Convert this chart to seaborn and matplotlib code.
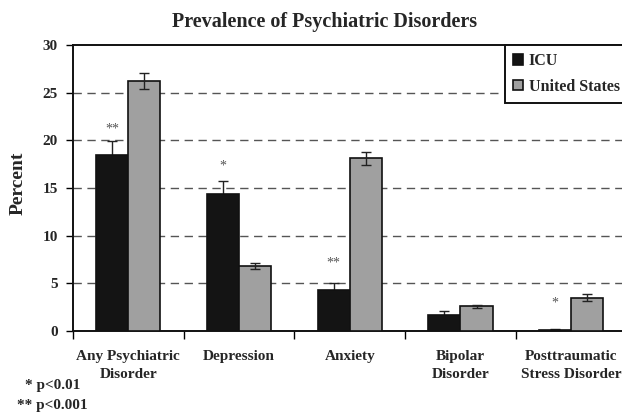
import matplotlib
matplotlib.use('Agg')
import matplotlib.pyplot as plt
import seaborn as sns
import numpy as np
import pandas as pd

categories = ["Any Psychiatric\nDisorder", "Depression", "Anxiety", "Bipolar\nDisorder", "Posttraumatic\nStress Disorder"]
groups = ["ICU", "United States"]
icu_values = [18.5, 14.4, 4.3, 1.7, 0.15]
icu_errors = [1.4, 1.3, 0.7, 0.4, 0.05]
us_values = [26.2, 6.8, 18.1, 2.6, 3.5]
us_errors = [0.85, 0.3, 0.7, 0.15, 0.35]
sig_marks = ["**", "*", "**", "", "*"]
sig_heights = [21.2, 17.3, 7.1, 0, 2.9]

df = pd.DataFrame({
    "category": categories * 2,
    "group": [groups[0]] * len(categories) + [groups[1]] * len(categories),
    "value": icu_values + us_values,
})

sns.set_theme(style="white")
plt.rcParams['font.family'] = ['Liberation Serif', 'DejaVu Serif']
plt.rcParams['font.weight'] = 'bold'

fig = plt.figure(figsize=(6.22, 4.13), dpi=100)
# axes runs slightly past the right edge, as in the cropped original
ax = fig.add_axes([73 / 622, 82 / 413, 553.5 / 622, 286 / 413])

palette = {"ICU": "#141414", "United States": "#a0a0a0"}
sns.barplot(data=df, x="category", y="value", hue="group", palette=palette,
            width=0.58, edgecolor="#111111", linewidth=1.2, errorbar=None,
            saturation=1, ax=ax, zorder=3, legend=True)

# error bars from bar patches; ICU ones sit behind the black bars
errs = icu_errors + us_errors
n = len(categories)
for k, (patch, err) in enumerate(zip(ax.patches[:len(errs)], errs)):
    cx = patch.get_x() + patch.get_width() / 2
    ax.errorbar(cx, patch.get_height(), yerr=err, fmt='none', ecolor='#222222',
                elinewidth=1, capsize=3.5, capthick=1, zorder=2 if k < n else 4)

for i, (mark, h) in enumerate(zip(sig_marks, sig_heights)):
    if mark:
        ax.text(i - 0.145, h, mark, ha='center', va='center', fontsize=10,
                fontweight='normal', color='#555555')

ax.set_ylim(0, 30)
ax.set_xlim(-0.5, 4.5)
ax.set_yticks(range(0, 31, 5))
for y in range(5, 30, 5):
    ax.axhline(y, color='#555555', linestyle=(0, (6, 4)), linewidth=1, zorder=1)

ax.set_xticks(range(len(categories)))
ax.set_xticklabels(categories, fontsize=11, fontweight='bold', linespacing=1.45)
ax.set_xticks(np.arange(-0.5, 5, 1), minor=True)
ax.tick_params(axis='x', which='major', length=0, pad=14)
ax.tick_params(axis='x', which='minor', length=6, width=1, color='black', direction='out', bottom=True)
ax.tick_params(axis='y', length=5, width=1, color='black', direction='out', left=True, labelsize=11, pad=6)
for lab in ax.get_yticklabels():
    lab.set_fontweight('bold')

ax.set_xlabel("")
ax.set_ylabel("")
fig.text(18 / 622, 1 - 183 / 413, "Percent", rotation=90, ha='center', va='center',
         fontsize=14, fontweight='bold')

for side in ['left', 'bottom', 'top']:
    ax.spines[side].set_color('#111111')
    ax.spines[side].set_linewidth(1.4)
ax.spines['right'].set_visible(False)

fig.text(325 / 622, 1 - 22 / 413, "Prevalence of Psychiatric Disorders", ha='center', va='center',
         fontsize=14.5, fontweight='bold')

fig.text(25 / 622, 1 - 385 / 413, "* p<0.01", ha='left', va='center', fontsize=11, fontweight='bold')
fig.text(17 / 622, 1 - 405 / 413, "** p<0.001", ha='left', va='center', fontsize=11, fontweight='bold')

leg = ax.legend(loc='upper left', bbox_to_anchor=(505 / 622, 1 - 45 / 413),
                bbox_transform=fig.transFigure, frameon=True, fancybox=False,
                prop={'weight': 'bold', 'size': 11.5}, handlelength=0.65, handleheight=0.65,
                handletextpad=0.35, borderpad=0.5, labelspacing=0.6, borderaxespad=0)
leg.get_frame().set_edgecolor('#111111')
leg.get_frame().set_linewidth(1.4)
leg.get_frame().set_alpha(1)
leg.set_zorder(5)

fig.savefig("out.png", dpi=100)
